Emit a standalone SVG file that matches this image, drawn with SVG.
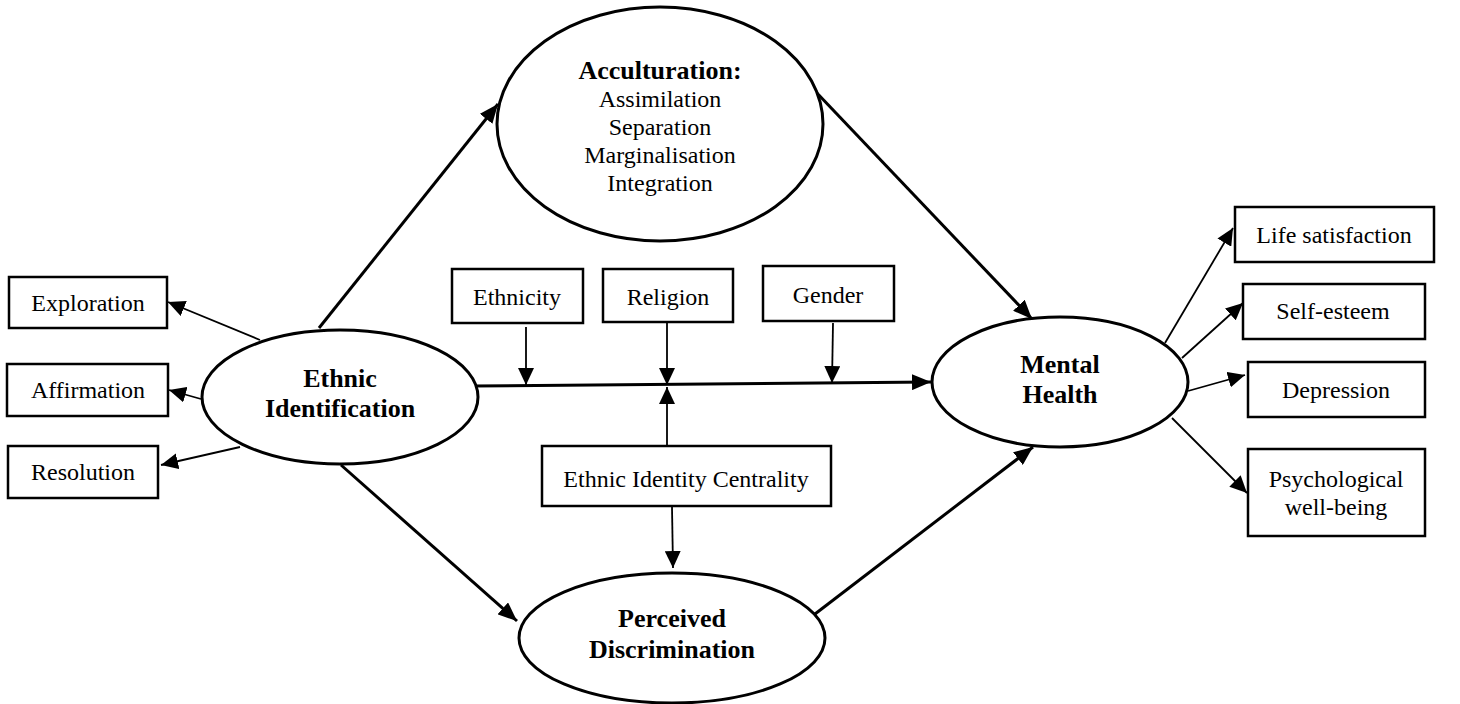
<svg xmlns="http://www.w3.org/2000/svg" width="1460" height="704" viewBox="0 0 1460 704">
  <style>
    .bg { fill: #ffffff; }
    .oval { fill: #ffffff; stroke: #000000; stroke-width: 3; }
    .box { fill: #ffffff; stroke: #000000; stroke-width: 2.5; }
    text { font-family: 'Liberation Serif', 'Times New Roman', Times, serif; fill: #000000; text-anchor: middle; }
    .lbl { font-size: 24px; }
    .head { font-size: 26px; font-weight: bold; }
    .thick { stroke: #000000; stroke-width: 3; fill: none; marker-end: url(#bigHead); }
    .thin { stroke: #000000; stroke-width: 1.8; fill: none; marker-end: url(#smallHead); }
  </style>
  <defs>
    <marker id="bigHead" markerUnits="userSpaceOnUse" markerWidth="20" markerHeight="16" refX="19" refY="8" orient="auto">
      <path d="M0,0 L19,8 L0,16 z" fill="#000000"/>
    </marker>
    <marker id="smallHead" markerUnits="userSpaceOnUse" markerWidth="18" markerHeight="16" refX="17" refY="8" orient="auto">
      <path d="M0,0 L17,8 L0,16 z" fill="#000000"/>
    </marker>
  </defs>

  <rect class="bg" x="0" y="0" width="1460" height="704"/>

  <!-- connectors -->
  <g id="connectors">
    <line class="thick" x1="319" y1="328" x2="498" y2="104"/>
    <line class="thick" x1="341" y1="465" x2="517" y2="621"/>
    <line class="thick" x1="815" y1="91" x2="1032" y2="319"/>
    <line class="thick" x1="815" y1="614" x2="1033" y2="447"/>
    <line class="thick" x1="473" y1="386" x2="931" y2="382"/>
    <line class="thin" x1="260" y1="340" x2="168" y2="302"/>
    <line class="thin" x1="201" y1="399" x2="169" y2="390"/>
    <line class="thin" x1="240" y1="447" x2="161" y2="465"/>
    <line class="thin" x1="526" y1="327" x2="526" y2="385"/>
    <line class="thin" x1="667" y1="323" x2="667" y2="385"/>
    <line class="thin" x1="833" y1="323" x2="832" y2="383"/>
    <line class="thin" x1="667" y1="446" x2="667" y2="387"/>
    <line class="thin" x1="672" y1="507" x2="673" y2="568"/>
    <line class="thin" x1="1165" y1="343" x2="1233" y2="228"/>
    <line class="thin" x1="1182" y1="358" x2="1243" y2="303"/>
    <line class="thin" x1="1188" y1="391" x2="1245" y2="375"/>
    <line class="thin" x1="1172" y1="418" x2="1247" y2="493"/>
  </g>

  <g font-family="'Liberation Serif', 'Times New Roman', Times, serif">
  <!-- latent constructs -->
  <g id="acculturation">
    <ellipse class="oval" cx="660" cy="124" rx="163" ry="117"/>
    <text class="head" x="660" y="79">Acculturation:</text>
    <text class="lbl" x="660" y="107">Assimilation</text>
    <text class="lbl" x="660" y="135">Separation</text>
    <text class="lbl" x="660" y="163">Marginalisation</text>
    <text class="lbl" x="660" y="191">Integration</text>
  </g>
  <g id="ethnic-identification">
    <ellipse class="oval" cx="340" cy="397" rx="138" ry="67"/>
    <text class="head" x="340" y="387">Ethnic</text>
    <text class="head" x="340" y="417">Identification</text>
  </g>
  <g id="perceived-discrimination">
    <ellipse class="oval" cx="672" cy="638" rx="153" ry="65"/>
    <text class="head" x="672" y="627">Perceived</text>
    <text class="head" x="672" y="658">Discrimination</text>
  </g>
  <g id="mental-health">
    <ellipse class="oval" cx="1060" cy="382" rx="128" ry="65"/>
    <text class="head" x="1060" y="373">Mental</text>
    <text class="head" x="1060" y="403">Health</text>
  </g>

  <!-- identity components -->
  <g id="exploration">
    <rect class="box" x="9" y="277" width="158" height="51"/>
    <text class="lbl" x="88" y="311">Exploration</text>
  </g>
  <g id="affirmation">
    <rect class="box" x="7" y="364" width="161" height="52"/>
    <text class="lbl" x="88" y="398">Affirmation</text>
  </g>
  <g id="resolution">
    <rect class="box" x="8" y="446" width="150" height="52"/>
    <text class="lbl" x="83" y="480">Resolution</text>
  </g>

  <!-- moderators -->
  <g id="ethnicity">
    <rect class="box" x="452" y="269" width="131" height="54"/>
    <text class="lbl" x="517" y="305">Ethnicity</text>
  </g>
  <g id="religion">
    <rect class="box" x="603" y="269" width="130" height="53"/>
    <text class="lbl" x="668" y="305">Religion</text>
  </g>
  <g id="gender">
    <rect class="box" x="763" y="266" width="131" height="55"/>
    <text class="lbl" x="828" y="303">Gender</text>
  </g>
  <g id="ethnic-identity-centrality">
    <rect class="box" x="542" y="446" width="289" height="60"/>
    <text class="lbl" x="686" y="487">Ethnic Identity Centrality</text>
  </g>

  <!-- outcomes -->
  <g id="life-satisfaction">
    <rect class="box" x="1235" y="207" width="199" height="55"/>
    <text class="lbl" x="1334" y="243">Life satisfaction</text>
  </g>
  <g id="self-esteem">
    <rect class="box" x="1243" y="284" width="182" height="55"/>
    <text class="lbl" x="1333" y="319">Self-esteem</text>
  </g>
  <g id="depression">
    <rect class="box" x="1248" y="362" width="177" height="55"/>
    <text class="lbl" x="1336" y="398">Depression</text>
  </g>
  <g id="psychological-well-being">
    <rect class="box" x="1248" y="449" width="177" height="87"/>
    <text class="lbl" x="1336" y="487">Psychological</text>
    <text class="lbl" x="1336" y="515">well-being</text>
  </g>
  </g>
</svg>
